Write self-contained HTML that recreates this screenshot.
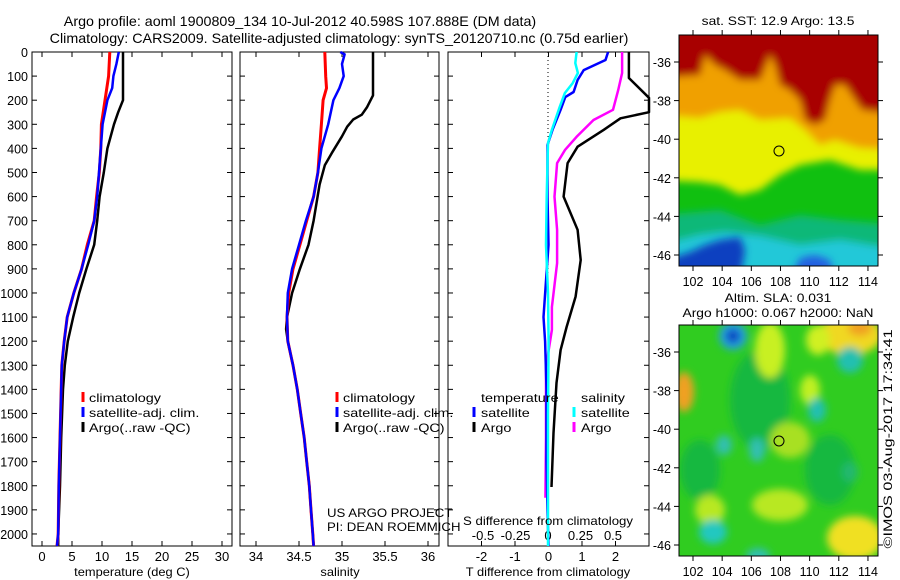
<!DOCTYPE html>
<html><head><meta charset="utf-8"><style>
body{margin:0;background:#fff;}
svg{display:block;font-family:"Liberation Sans",sans-serif;}
</style></head><body>
<svg id="fig" width="900" height="580" viewBox="0 0 900 580" xmlns="http://www.w3.org/2000/svg">
<defs>
<filter id="bl" x="-20%" y="-20%" width="140%" height="140%"><feGaussianBlur stdDeviation="4"/></filter>
<filter id="bl2" x="-50%" y="-50%" width="200%" height="200%"><feGaussianBlur stdDeviation="4"/></filter>
<clipPath id="c1"><rect x="679" y="35" width="199" height="231"/></clipPath>
<clipPath id="c2"><rect x="679" y="325" width="199" height="231"/></clipPath>
</defs>
<text id="t1" x="300" y="26" font-size="14" text-anchor="middle">Argo profile: aoml 1900809_134 10-Jul-2012 40.598S 107.888E (DM data)</text>
<text id="t2" x="339" y="43" font-size="14" text-anchor="middle">Climatology: CARS2009. Satellite-adjusted climatology: synTS_20120710.nc (0.75d earlier)</text>

<g clip-path="url(#c1)">
<rect x="679" y="35" width="199" height="231" fill="#10c010"/>
<g filter="url(#bl)">
<polygon points="660,15 900,15 900,170 860,170 830,160 800,165 780,175 760,190 740,195 720,185 700,182 660,180" fill="#e8f000"/>
<polygon points="660,15 900,15 900,150 860,148 835,140 820,145 805,130 790,118 760,120 740,110 720,112 700,118 660,115" fill="#f0a000"/>
<polygon points="660,15 900,15 900,115 862,110 855,100 845,85 835,85 830,100 825,120 815,125 805,120 800,100 790,90 780,85 775,65 770,55 760,80 740,80 725,70 715,65 705,55 700,75 660,78" fill="#a80000"/>
<polygon points="660,215 720,210 760,225 800,215 840,220 900,225 900,290 660,290" fill="#10b878"/>
<polygon points="660,245 700,235 725,232 760,236 800,245 840,240 900,250 900,290 660,290" fill="#20c8d8"/>
</g>
<polygon points="660,280 660,262 690,252 705,245 720,240 740,237 745,250 740,280" fill="#1040c0" filter="url(#bl)"/>
<polygon points="790,280 800,258 815,255 830,260 835,280" fill="#2060e0" filter="url(#bl)"/>
</g>
<rect x="679" y="35" width="199" height="231" fill="none" stroke="#000"/>
<circle cx="779" cy="151" r="5" fill="none" stroke="#000"/>
<text id="t3" x="778" y="25" font-size="12" text-anchor="middle">sat. SST: 12.9 Argo: 13.5</text>

<g clip-path="url(#c2)">
<rect x="679" y="325" width="199" height="231" fill="#30cc20"/>
<g filter="url(#bl2)">
<ellipse cx="760" cy="400" rx="30" ry="50" fill="#18b840"/>
<ellipse cx="830" cy="470" rx="25" ry="35" fill="#18b840"/>
<ellipse cx="700" cy="470" rx="20" ry="30" fill="#18b840"/>
<ellipse cx="770" cy="350" rx="15" ry="28" fill="#c8f020"/>
<ellipse cx="850" cy="335" rx="32" ry="20" fill="#f0d820"/>
<ellipse cx="860" cy="328" rx="12" ry="8" fill="#f0a020"/>
<ellipse cx="818" cy="340" rx="12" ry="15" fill="#d0f020"/>
<ellipse cx="684" cy="392" rx="10" ry="20" fill="#f0a020"/>
<ellipse cx="790" cy="440" rx="20" ry="18" fill="#a8e020"/>
<ellipse cx="780" cy="505" rx="28" ry="16" fill="#b8e820"/>
<ellipse cx="710" cy="510" rx="15" ry="15" fill="#b8e820"/>
<ellipse cx="855" cy="538" rx="28" ry="22" fill="#f0e020"/>
<ellipse cx="810" cy="390" rx="10" ry="15" fill="#c0f020"/>
<ellipse cx="733" cy="336" rx="14" ry="14" fill="#20a0e0"/>
<ellipse cx="733" cy="336" rx="7" ry="7" fill="#1040c0"/>
<ellipse cx="850" cy="360" rx="13" ry="13" fill="#20c0b0"/>
<ellipse cx="817" cy="410" rx="9" ry="12" fill="#20c0b0"/>
<ellipse cx="724" cy="445" rx="8" ry="10" fill="#30c0b0"/>
<ellipse cx="757" cy="450" rx="8" ry="12" fill="#30c0b0"/>
<ellipse cx="713" cy="532" rx="14" ry="12" fill="#20c8c0"/>
<ellipse cx="758" cy="556" rx="12" ry="8" fill="#30c0b0"/>
<ellipse cx="850" cy="472" rx="8" ry="10" fill="#20b870"/>
</g>
</g>
<rect x="679" y="325" width="199" height="231" fill="none" stroke="#000"/>
<circle cx="779" cy="441" r="5" fill="none" stroke="#000"/>
<text id="t4" x="778" y="302" font-size="12" text-anchor="middle">Altim. SLA: 0.031</text>
<text id="t5" x="778" y="317" font-size="12" text-anchor="middle">Argo h1000: 0.067 h2000: NaN</text>
<g transform="translate(892,439) rotate(-90)"><text id="t6" x="0" y="0" font-size="12" text-anchor="middle">©IMOS 03-Aug-2017 17:34:41</text></g>
</svg>
<script>
// ---- profile data ----
const tClimDepth = [0,100,200,300,400,500,600,700,800,900,1000,1100,1200,1300,1400,1600,1800,2000,2050];
const tClimVal   = [11.3,11.1,10.5,9.9,9.8,9.55,9.1,8.7,7.55,6.6,5.3,4.2,3.7,3.3,3.2,3.0,2.8,2.7,2.5];
const tSatDepth  = [0,50,100,150,200,300,400,500,600,700,800,900,1000,1100,1200,1300,1400,1600,1800,2000,2050];
const tSatVal    = [12.8,12.4,11.9,11.7,10.9,10.1,9.8,9.5,9.2,8.7,7.7,6.6,5.3,4.2,3.7,3.3,3.2,3.0,2.8,2.7,2.5];
const tArgoDepth = [0,200,250,300,400,500,600,700,800,900,1000,1100,1200,1300,1400,1600,1800,2000,2050];
const tArgoVal   = [13.5,13.5,12.7,12.0,10.9,10.3,9.6,9.2,8.7,7.4,6.2,5.2,4.3,3.8,3.5,3.2,3.0,2.7,2.7];
const sClimDepth = [0,100,150,200,300,400,500,600,700,800,900,1000,1100,1200,1300,1400,1500,1600,1700,1800,1900,2000,2050];
const sClimVal   = [34.80,34.81,34.82,34.78,34.76,34.74,34.72,34.67,34.59,34.51,34.43,34.38,34.36,34.37,34.43,34.48,34.52,34.56,34.59,34.62,34.64,34.66,34.67];
const sSatDepth  = [0,10,50,100,150,200,300,400,500,600,700,800,900,1000,1100,1200,1300,1400,1500,1600,1700,1800,1900,2000,2050];
const sSatVal    = [34.98,35.03,35.0,35.02,34.97,34.90,34.84,34.76,34.72,34.67,34.58,34.50,34.42,34.37,34.36,34.37,34.43,34.48,34.52,34.56,34.59,34.62,34.64,34.66,34.67];
const sArgoDepth = [0,180,230,260,280,310,350,420,470,550,700,800,900,1000,1100,1150,1200,1300,1400,1500,1600,1700,1800,1900,2000,2050];
const sArgoVal   = [35.36,35.36,35.29,35.23,35.13,35.06,35.0,34.88,34.80,34.74,34.67,34.61,34.51,34.42,34.36,34.35,34.37,34.43,34.48,34.52,34.56,34.59,34.62,34.64,34.66,34.67];
const dTArgoDepth = [0,108,190,250,275,323,393,461,600,738,863,1015,1141,1237,1373,1581,1805];
const dTArgoVal   = [2.4,2.4,3.0,3.0,2.15,1.65,0.87,0.57,0.45,0.87,0.96,0.81,0.54,0.36,0.24,0.15,0.09];
const dSArgoDepth = [0,87,158,240,282,352,407,461,600,738,876,1058,1153,1307,1600,1850];
const dSArgoVal   = [0.57,0.57,0.54,0.5,0.35,0.22,0.13,0.07,0.05,0.07,0.07,0.03,0.03,-0.015,-0.015,-0.02];
const dTSatDepth = [0,33,75,116,166,187,240,323,386,600,800,1100,1200,1400,1700,1900,2050];
const dTSatVal   = [1.78,1.7,1.05,0.87,0.75,0.5,0.36,0.12,-0.03,-0.03,0,-0.15,-0.1,-0.06,-0.06,-0.03,0];
const dSSatDepth = [0,46,87,129,170,228,323,378,600,800,1000,1200,1500,2050];
const dSSatVal   = [0.22,0.21,0.23,0.19,0.13,0.09,0.03,0,-0.01,-0.015,0,0.005,0,0];
const depthTicks = [0,100,200,300,400,500,600,700,800,900,1000,1100,1200,1300,1400,1500,1600,1700,1800,1900,2000];
const tempTicks = [0,5,10,15,20,25,30];
const salTicks = [34,34.5,35,35.5,36];
const salTickLabels = ["34","34.5","35","35.5","36"];
const dTTicks = [-2,-1,0,1,2];
const dSTicks = [-0.5,-0.25,0,0.25,0.5];
const dSTickLabels = ["-0.5","-0.25","0","0.25","0.5"];
const lonTicks = [102,104,106,108,110,112,114];
const latTicks = [-36,-38,-40,-42,-44,-46];

const NS = "http://www.w3.org/2000/svg";
const svg = document.getElementById('fig');
function mk(tag, attrs, parent){
  const e = document.createElementNS(NS, tag);
  for (const k in attrs) e.setAttribute(k, attrs[k]);
  (parent||svg).appendChild(e);
  return e;
}
function stretch(t, f){
  const w = t.getComputedTextLength();
  const anc = t.getAttribute('text-anchor') || 'start';
  const x = parseFloat(t.getAttribute('x'));
  const nw = w*f;
  let nx = x;
  if (anc === 'middle') nx = x - nw/2;
  else if (anc === 'end') nx = x - nw;
  t.setAttribute('text-anchor', 'start');
  t.setAttribute('x', nx.toFixed(1));
  t.setAttribute('textLength', nw.toFixed(1));
  t.setAttribute('lengthAdjust', 'spacingAndGlyphs');
}
stretch(document.getElementById('t1'), 1.02);
stretch(document.getElementById('t2'), 1.02);
stretch(document.getElementById('t3'), 1.15);
stretch(document.getElementById('t4'), 1.15);
stretch(document.getElementById('t5'), 1.15);
stretch(document.getElementById('t6'), 1.35);

const TOP = 52, BOT = 546;
const yD = d => TOP + (d/2050)*(BOT-TOP);
const panels = [
  {x0:32,x1:232,min:-5/3,max:95/3,name:'temperature'},
  {x0:240,x1:439,min:33.814,max:36.128,name:'salinity'},
  {x0:448,x1:649,min:-3,max:3,name:'difference'}
];
function sx(p,v){return p.x0+(v-p.min)/(p.max-p.min)*(p.x1-p.x0);}
const dSscale = v => 548 + v*130;

function txt(x,y,s,name,size,anchor,f){
  const t = mk('text',{x:x,y:y,'font-size':size||12,'text-anchor':anchor||'start'});
  
  
  t.textContent = s;
  if (f) stretch(t, f);
  return t;
}

panels.forEach((p,i)=>{
  const r = mk('rect',{x:p.x0,y:TOP,width:p.x1-p.x0,height:BOT-TOP,fill:'none',stroke:'#000'});
  
  
  depthTicks.forEach(d=>{
    const y=yD(d);
    const t1 = mk('line',{x1:p.x0,x2:p.x0+5,y1:y,y2:y,stroke:'#000'});
    
    
    const t2 = mk('line',{x1:p.x1-5,x2:p.x1,y1:y,y2:y,stroke:'#000'});
    
    
    if(i===0){
      txt(28,y+5,String(d),'depth-tick-label',12.5,'end');
    }
  });
});
function xTicks(p, ticks, labels, name){
  ticks.forEach((v,j)=>{
    const x=sx(p,v);
    const a = mk('line',{x1:x,x2:x,y1:BOT,y2:BOT-5,stroke:'#000'});
    
    
    const b = mk('line',{x1:x,x2:x,y1:TOP,y2:TOP+5,stroke:'#000'});
    
    
    txt(x,561,labels ? labels[j] : String(v),name+'-tick-label',13,'middle');
  });
}
xTicks(panels[0], tempTicks, null, 'temperature');
xTicks(panels[1], salTicks, salTickLabels, 'salinity');
xTicks(panels[2], dTTicks, null, 't-difference');
dSTicks.forEach((v,j)=>{
  txt(dSscale(v),540,dSTickLabels[j],'s-difference-tick-label',13,'middle');
});
const zl = mk('line',{x1:548,x2:548,y1:TOP,y2:BOT,stroke:'#000','stroke-dasharray':'1,3'});



function line(dep, val, xf, color, w, name){
  const pts = dep.map((d,k)=>xf(val[k]).toFixed(1)+','+yD(d).toFixed(1)).join(' ');
  const pl = mk('polyline',{points:pts,fill:'none',stroke:color,'stroke-width':w,'stroke-linejoin':'round'});
  
  
}
const P0=panels[0],P1=panels[1],P2=panels[2];
line(tArgoDepth,tArgoVal,v=>sx(P0,v),'#000',2.5,'temperature-argo-line');
line(tClimDepth,tClimVal,v=>sx(P0,v),'#f00',3,'temperature-climatology-line');
line(tSatDepth,tSatVal,v=>sx(P0,v),'#00f',2.5,'temperature-satellite-line');
line(sArgoDepth,sArgoVal,v=>sx(P1,v),'#000',2.5,'salinity-argo-line');
line(sClimDepth,sClimVal,v=>sx(P1,v),'#f00',3,'salinity-climatology-line');
line(sSatDepth,sSatVal,v=>sx(P1,v),'#00f',2.5,'salinity-satellite-line');
line(dTArgoDepth,dTArgoVal,v=>sx(P2,v),'#000',2.5,'t-diff-argo-line');
line(dSArgoDepth,dSArgoVal,dSscale,'#f0f',2.5,'s-diff-argo-line');
line(dTSatDepth,dTSatVal,v=>sx(P2,v),'#00f',2.5,'t-diff-satellite-line');
line(dSSatDepth,dSSatVal,dSscale,'#0ff',2.5,'s-diff-satellite-line');

function legKey(x,y,color,name){
  const l = mk('line',{x1:x,x2:x,y1:y-10,y2:y,stroke:color,'stroke-width':3});
  
  
}
[32+51, 240+97].forEach((lx,k)=>{
  const pre = k===0?'temperature':'salinity';
  legKey(lx,402,'#f00',pre+'-legend-climatology-key');
  txt(lx+6,402,'climatology',pre+'-legend-climatology',12,'start',1.2);
  legKey(lx,417,'#00f',pre+'-legend-satellite-key');
  txt(lx+6,417,'satellite-adj. clim.',pre+'-legend-satellite',12,'start',1.2);
  legKey(lx,432,'#000',pre+'-legend-argo-key');
  txt(lx+6,432,'Argo(..raw -QC)',pre+'-legend-argo',12,'start',1.2);
});
txt(481,402,'temperature','diff-legend-temperature-header',12,'start',1.2);
legKey(474,417,'#00f','diff-legend-t-satellite-key');
txt(481,417,'satellite','diff-legend-t-satellite',12,'start',1.2);
legKey(474,432,'#000','diff-legend-t-argo-key');
txt(481,432,'Argo','diff-legend-t-argo',12,'start',1.2);
txt(581,402,'salinity','diff-legend-salinity-header',12,'start',1.2);
legKey(574,417,'#0ff','diff-legend-s-satellite-key');
txt(581,417,'satellite','diff-legend-s-satellite',12,'start',1.2);
legKey(574,432,'#f0f','diff-legend-s-argo-key');
txt(581,432,'Argo','diff-legend-s-argo',12,'start',1.2);
txt(327,517,'US ARGO PROJECT','project-label',12,'start',1.1);
txt(327,531,'PI: DEAN ROEMMICH','pi-label',12,'start',1.1);
txt(548,525,'S difference from climatology','s-diff-axis-title',12,'middle',1.1);
txt(132,576,'temperature (deg C)','temperature-axis-title',12,'middle',1.07);
txt(340,576,'salinity','salinity-axis-title',12,'middle',1.07);
txt(548,576,'T difference from climatology','t-diff-axis-title',12,'middle',1.07);

const lonX = v => 693 + (v-102)*14.58;
[[35,266,62,'sst'],[325,556,352,'sla']].forEach(m=>{
  const [y0,y1,yl,nm] = m;
  lonTicks.forEach(v=>{
    const x=lonX(v);
    const a = mk('line',{x1:x,x2:x,y1:y1,y2:y1+5,stroke:'#000'});
    
    
    const b = mk('line',{x1:x,x2:x,y1:y0,y2:y0-5,stroke:'#000'});
    
    
    txt(x,y1+20,String(v),nm+'-lon-label',12.5,'middle');
  });
  latTicks.forEach(v=>{
    const y = yl + (-36-v)*19.3;
    const a = mk('line',{x1:674,x2:679,y1:y,y2:y,stroke:'#000'});
    
    
    const b = mk('line',{x1:878,x2:883,y1:y,y2:y,stroke:'#000'});
    
    
    txt(671,y+5,String(v),nm+'-lat-label',12.5,'end');
  });
});
</script>
</body></html>
